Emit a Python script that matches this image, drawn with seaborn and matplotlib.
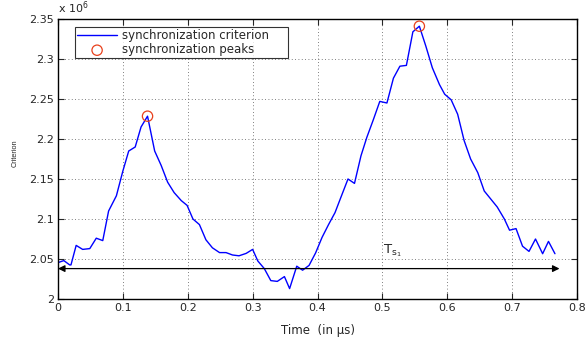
import matplotlib
matplotlib.use("Agg")
import matplotlib.pyplot as plt
import numpy as np
import pandas as pd
import seaborn as sns

# --- data (criterion in units of 1e6) ---
time_us = [0.000, 0.009, 0.018, 0.020, 0.028, 0.038, 0.049, 0.059, 0.069, 0.078,
           0.090, 0.100, 0.109, 0.119, 0.128, 0.138, 0.149, 0.159, 0.169, 0.179,
           0.190, 0.199, 0.208, 0.218, 0.228, 0.238, 0.249, 0.259, 0.269, 0.279,
           0.290, 0.300, 0.308, 0.318, 0.328, 0.338, 0.349, 0.357, 0.368, 0.377,
           0.387, 0.397, 0.407, 0.417, 0.427, 0.436, 0.447, 0.457, 0.467, 0.476,
           0.486, 0.496, 0.507, 0.517, 0.527, 0.537, 0.547, 0.557, 0.567, 0.577,
           0.588, 0.596, 0.606, 0.616, 0.626, 0.636, 0.647, 0.657, 0.667, 0.677,
           0.688, 0.696, 0.706, 0.716, 0.726, 0.736, 0.747, 0.756, 0.766]
criterion = [2.0455, 2.048, 2.0426, 2.0426, 2.067, 2.062, 2.063, 2.076, 2.073, 2.110,
             2.129, 2.160, 2.185, 2.190, 2.215, 2.2285, 2.185, 2.167, 2.146, 2.133,
             2.123, 2.117, 2.100, 2.093, 2.074, 2.064, 2.058, 2.058, 2.055, 2.054,
             2.057, 2.062, 2.0475, 2.038, 2.023, 2.022, 2.028, 2.013, 2.041, 2.036,
             2.042, 2.0575, 2.077, 2.093, 2.108, 2.127, 2.150, 2.1445, 2.179, 2.202,
             2.224, 2.247, 2.245, 2.276, 2.291, 2.292, 2.334, 2.341, 2.316, 2.289,
             2.268, 2.256, 2.249, 2.231, 2.198, 2.175, 2.158, 2.135, 2.125, 2.115,
             2.100, 2.086, 2.088, 2.066, 2.0595, 2.075, 2.0566, 2.072, 2.0566]
peak_time = [0.138, 0.557]
peak_value = [2.2285, 2.341]
arrow_span = [0.0, 0.773]
arrow_level = 2.038
x_ticks = [0, 0.1, 0.2, 0.3, 0.4, 0.5, 0.6, 0.7, 0.8]
y_ticks = [2, 2.05, 2.1, 2.15, 2.2, 2.25, 2.3, 2.35]

df = pd.DataFrame({"time": time_us, "criterion": criterion})
peaks = pd.DataFrame({"time": peak_time, "criterion": peak_value})

sns.set_style("ticks")
plt.rcParams["font.family"] = ["DejaVu Sans"]

fig = plt.figure(figsize=(5.87, 3.38), dpi=100)
ax = fig.add_axes([0.0988, 0.1154, 0.8842, 0.8284])

sns.lineplot(data=df, x="time", y="criterion", ax=ax, color="#0000ff",
             linewidth=1.0, label="synchronization criterion")
sns.scatterplot(data=peaks, x="time", y="criterion", ax=ax, marker="o", s=55,
                facecolor="none", edgecolor="#e8401c", linewidth=0.9,
                label="synchronization peaks", zorder=5)

ax.annotate("", xy=(arrow_span[1], arrow_level), xytext=(arrow_span[0], arrow_level),
            arrowprops=dict(arrowstyle="<|-|>", color="black", lw=0.9,
                            mutation_scale=10, shrinkA=0, shrinkB=0))
ax.text(0.5008, 2.0575, r"$\mathregular{T}_{\mathregular{s}_{\mathregular{1}}}$",
        fontsize=9.5)

ax.set_xlim(0, 0.8)
ax.set_ylim(2, 2.35)
ax.set_xticks(x_ticks)
ax.set_yticks(y_ticks)
ax.set_xticklabels([f"{t:g}" for t in x_ticks], fontsize=8)
ax.set_yticklabels([f"{t:g}" for t in y_ticks], fontsize=8)
ax.tick_params(direction="in", top=True, right=True, length=4, width=0.8, pad=3)
ax.grid(True, linestyle=(0, (1, 3)), color="#555555", linewidth=0.6)
for s in ax.spines.values():
    s.set_linewidth(1.0)
    s.set_color("black")

ax.set_xlabel("Time  (in \u00b5s)", fontsize=8.5, labelpad=8)
ax.set_ylabel("Criterion", fontsize=5.3, labelpad=10, family="Liberation Sans")
ax.yaxis.set_label_coords(-0.075, 0.52)
ax.text(0.0, 1.012, r"x 10$^{\mathregular{6}}$", transform=ax.transAxes,
        fontsize=8, va="bottom")

# legend box spans roughly 75..288 px wide, 27..58 px high
leg = ax.legend(loc="upper left", bbox_to_anchor=(0.0328, 0.5, 0.4104, 0.471),
                mode="expand", borderaxespad=0, fontsize=8.5, frameon=True,
                fancybox=False, borderpad=0.17, handlelength=3.4,
                handletextpad=0.4, labelspacing=0.1)
leg.get_frame().set_edgecolor("black")
leg.get_frame().set_linewidth(0.8)

fig.savefig("out.png", dpi=100)
